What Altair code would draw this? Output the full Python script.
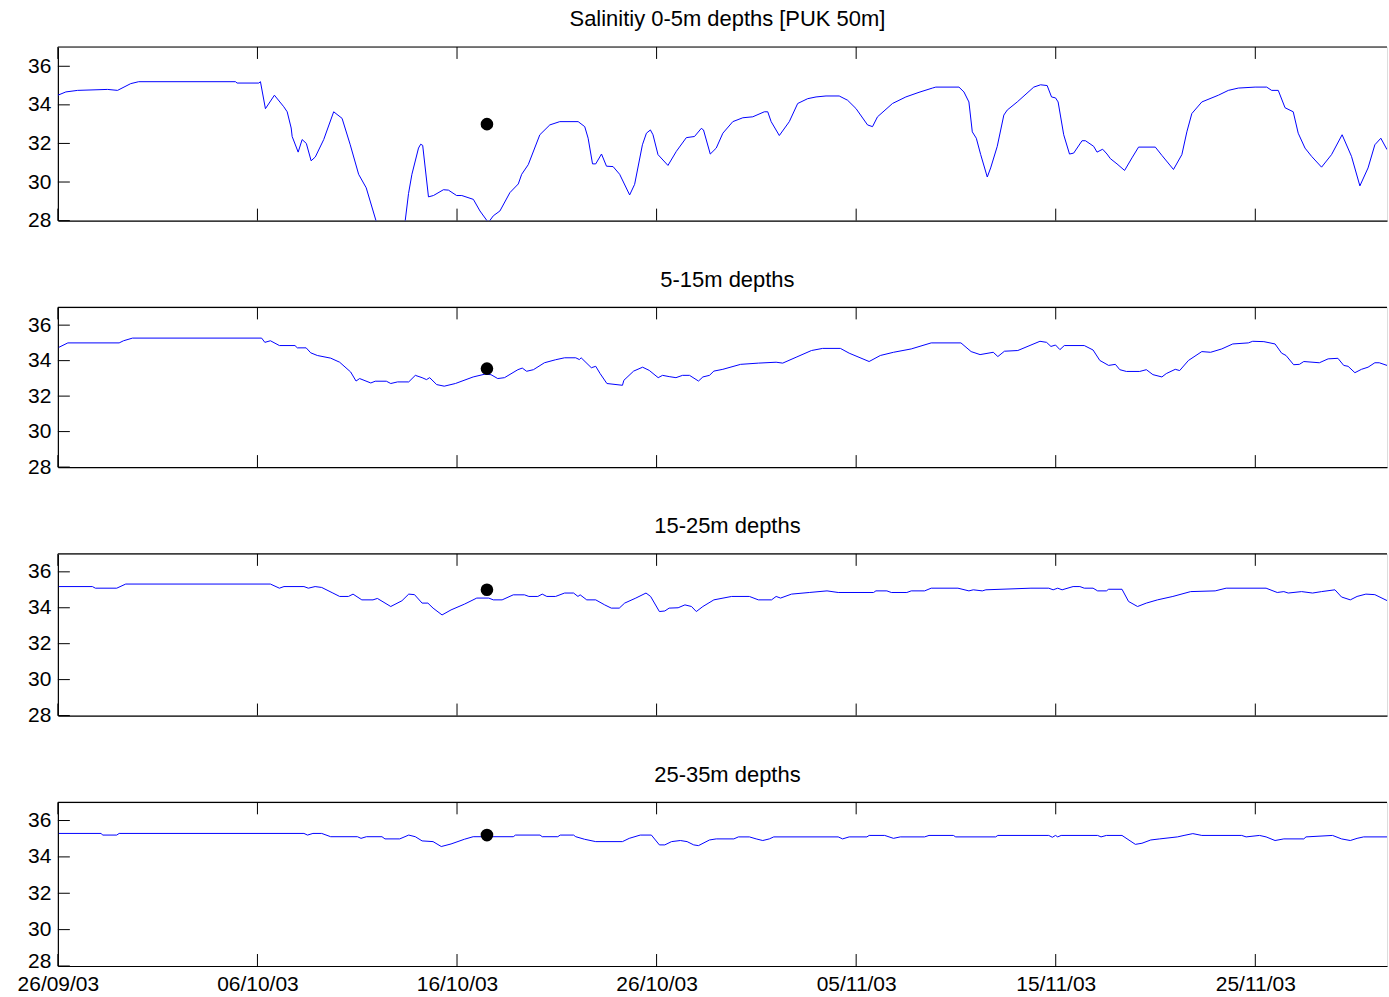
import altair as alt
import pandas as pd

START = pd.Timestamp("2003-09-26")
END_DAYS = 66.6  # right edge of the axes, in days after 26/09/03

titles = ["Salinitiy 0-5m depths [PUK 50m]", "5-15m depths", "15-25m depths", "25-35m depths"]

# ---- panel 1 : 0-5 m ----
p1_days = [0.0, 0.4, 0.99, 2.49, 2.99, 3.65, 4.05, 8.9, 8.98, 10.07,
           10.15, 10.4, 10.85, 11.32, 11.49, 11.69, 11.74, 12.04, 12.24, 12.45,
           12.69, 12.9, 13.32, 13.82, 14.24, 14.65, 15.07, 15.45, 15.95, 16.3,
           16.7, 17.1, 17.4, 17.57, 17.74, 18.07, 18.18, 18.28, 18.57, 18.82,
           19.32, 19.57, 19.98, 20.24, 20.82, 21.15, 21.57, 21.82, 22.15, 22.65,
           23.07, 23.24, 23.57, 24.15, 24.65, 25.15, 26.07, 26.4, 26.57, 26.79,
           26.95, 27.24, 27.49, 27.82, 28.15, 28.65, 28.9, 29.29, 29.49, 29.69,
           29.82, 30.07, 30.57, 30.99, 31.49, 31.9, 32.24, 32.35, 32.69, 32.99,
           33.32, 33.82, 34.32, 34.82, 35.4, 35.57, 35.74, 36.15, 36.65, 37.07,
           37.57, 37.99, 38.49, 39.15, 39.57, 39.99, 40.57, 40.82, 41.07, 41.82,
           42.49, 43.15, 43.82, 43.99, 45.15, 45.4, 45.65, 45.82, 46.02, 46.24,
           46.57, 46.74, 47.07, 47.4, 47.57, 48.07, 48.9, 49.24, 49.57, 49.79,
           49.99, 50.12, 50.4, 50.69, 50.9, 51.32, 51.49, 51.9, 52.07, 52.35,
           52.57, 52.74, 53.07, 53.45, 53.82, 54.15, 54.99, 55.32, 55.9, 56.32,
           56.57, 56.82, 57.32, 58.15, 58.65, 59.15, 59.99, 60.57, 60.82, 61.15,
           61.49, 61.9, 62.15, 62.49, 62.82, 63.32, 63.82, 64.35, 64.82, 65.24,
           65.65, 65.99, 66.29, 66.6]
p1_vals = [34.5, 34.67, 34.75, 34.8, 34.75, 35.1, 35.2, 35.2, 35.13, 35.13,
           35.2, 33.8, 34.5, 33.9, 33.64, 32.8, 32.36, 31.55, 32.2, 32.0,
           31.1, 31.3, 32.2, 33.64, 33.3, 31.93, 30.4, 29.7, 27.96, 26.8,
           26.2, 26.4, 27.96, 29.4, 30.4, 31.76, 31.96, 31.9, 29.23, 29.3,
           29.6, 29.58, 29.3, 29.3, 29.1, 28.5, 27.9, 28.25, 28.5, 29.45,
           29.9, 30.4, 30.9, 32.45, 32.96, 33.13, 33.13, 32.87, 32.27, 30.94,
           30.94, 31.45, 30.82, 30.8, 30.4, 29.33, 29.88, 31.93, 32.53, 32.7,
           32.45, 31.42, 30.86, 31.59, 32.3, 32.36, 32.78, 32.7, 31.45, 31.76,
           32.53, 33.13, 33.33, 33.38, 33.64, 33.64, 33.13, 32.41, 33.13, 34.07,
           34.32, 34.41, 34.46, 34.46, 34.24, 33.81, 32.96, 32.87, 33.38, 34.07,
           34.41, 34.65, 34.87, 34.92, 34.92, 34.67, 34.15, 32.6, 32.27, 31.42,
           30.26, 30.73, 31.85, 33.47, 33.73, 34.15, 34.92, 35.04, 35.0, 34.41,
           34.36, 34.15, 32.45, 31.45, 31.5, 32.14, 32.14, 31.85, 31.55, 31.7,
           31.45, 31.21, 30.94, 30.6, 31.25, 31.81, 31.81, 31.38, 30.65, 31.42,
           32.6, 33.55, 34.15, 34.5, 34.75, 34.87, 34.92, 34.92, 34.75, 34.75,
           33.85, 33.64, 32.53, 31.76, 31.33, 30.77, 31.42, 32.45, 31.33, 29.8,
           30.73, 31.93, 32.27, 31.68]

# ---- panel 2 : 5-15 m ----
p2_days = [0.05, 0.5, 3.07, 3.29, 3.74, 10.21, 10.37, 10.65, 11.1, 11.88,
           12.0, 12.44, 12.67, 13.0, 13.67, 14.12, 14.67, 14.94, 15.12, 15.68,
           15.9, 16.46, 16.68, 17.02, 17.58, 17.91, 18.25, 18.47, 18.63, 18.98,
           19.36, 19.92, 20.81, 21.37, 21.7, 22.04, 22.38, 23.05, 23.27, 23.49,
           23.83, 24.38, 24.94, 25.39, 25.95, 26.13, 26.22, 26.73, 26.95, 27.17,
           27.51, 28.29, 28.36, 28.85, 29.3, 29.63, 30.08, 30.3, 30.63, 30.97,
           31.3, 31.65, 32.1, 32.32, 32.65, 32.87, 33.32, 34.21, 35.1, 35.99,
           36.32, 36.99, 37.76, 38.32, 39.21, 39.65, 40.65, 41.21, 41.87, 42.76,
           43.76, 45.25, 45.76, 46.21, 46.87, 47.1, 47.43, 48.1, 48.76, 49.21,
           49.54, 49.76, 49.99, 50.21, 50.43, 51.43, 51.87, 52.21, 52.65, 52.99,
           53.21, 53.54, 54.21, 54.54, 54.87, 55.32, 55.54, 55.99, 56.21, 56.65,
           57.32, 57.76, 58.32, 58.87, 59.65, 59.87, 60.43, 60.99, 61.32, 61.54,
           61.92, 62.21, 62.43, 63.21, 63.65, 64.14, 64.43, 64.65, 64.99, 65.32,
           65.65, 65.99, 66.21, 66.6]
p2_vals = [34.75, 35.0, 35.0, 35.12, 35.27, 35.27, 35.03, 35.12, 34.85, 34.85,
           34.72, 34.72, 34.44, 34.29, 34.14, 33.91, 33.36, 32.85, 32.99, 32.74,
           32.84, 32.84, 32.71, 32.8, 32.8, 33.17, 33.04, 32.93, 33.04, 32.65,
           32.56, 32.71, 33.08, 33.23, 33.21, 32.99, 33.04, 33.49, 33.58, 33.4,
           33.49, 33.88, 34.05, 34.16, 34.16, 34.06, 34.16, 33.6, 33.68, 33.27,
           32.71, 32.61, 32.89, 33.41, 33.63, 33.45, 33.04, 33.17, 33.1, 33.04,
           33.17, 33.17, 32.85, 33.08, 33.17, 33.41, 33.51, 33.79, 33.86, 33.91,
           33.86, 34.19, 34.57, 34.69, 34.69, 34.42, 33.95, 34.29, 34.47, 34.66,
           35.0, 35.0, 34.51, 34.34, 34.47, 34.23, 34.53, 34.57, 34.88, 35.09,
           35.03, 34.8, 34.88, 34.62, 34.85, 34.85, 34.6, 34.01, 33.73, 33.79,
           33.49, 33.39, 33.39, 33.49, 33.21, 33.08, 33.27, 33.51, 33.44, 34.01,
           34.51, 34.47, 34.66, 34.94, 35.0, 35.09, 35.07, 34.94, 34.42, 34.29,
           33.77, 33.79, 33.95, 33.88, 34.1, 34.13, 33.73, 33.68, 33.32, 33.51,
           33.63, 33.88, 33.88, 33.73]

# ---- panel 3 : 15-25 m ----
p3_days = [0.05, 1.73, 1.88, 2.95, 3.4, 10.65, 11.1, 11.33, 12.33, 12.55,
           12.89, 13.22, 13.78, 14.12, 14.56, 14.79, 15.23, 15.79, 16.01, 16.68,
           17.24, 17.58, 17.87, 18.25, 18.54, 18.8, 19.25, 19.7, 20.37, 20.99,
           21.59, 21.82, 22.26, 22.82, 23.38, 23.6, 24.05, 24.27, 24.5, 24.94,
           25.39, 25.84, 26.06, 26.17, 26.5, 26.95, 27.4, 27.73, 28.13, 28.4,
           28.96, 29.47, 29.7, 30.14, 30.41, 30.63, 31.08, 31.42, 31.75, 31.99,
           32.32, 32.87, 33.76, 34.65, 35.1, 35.76, 35.99, 36.21, 36.76, 37.65,
           38.54, 39.1, 40.87, 40.99, 41.54, 41.76, 42.54, 42.76, 43.43, 43.76,
           45.1, 45.65, 45.87, 46.32, 46.5, 48.76, 49.65, 49.87, 50.1, 50.32,
           50.87, 51.21, 51.43, 51.87, 52.1, 52.54, 52.65, 53.32, 53.65, 54.1,
           54.54, 55.1, 55.87, 56.76, 57.99, 58.54, 60.54, 61.1, 61.43, 61.65,
           62.32, 62.87, 63.32, 63.99, 64.32, 64.76, 65.1, 65.54, 65.99, 66.6]
p3_vals = [35.18, 35.18, 35.09, 35.09, 35.32, 35.32, 35.09, 35.18, 35.18, 35.09,
           35.18, 35.13, 34.82, 34.63, 34.63, 34.76, 34.44, 34.44, 34.52, 34.07,
           34.39, 34.76, 34.73, 34.26, 34.26, 33.98, 33.6, 33.88, 34.2, 34.54,
           34.54, 34.44, 34.44, 34.72, 34.72, 34.63, 34.63, 34.76, 34.63, 34.63,
           34.82, 34.82, 34.63, 34.72, 34.44, 34.44, 34.16, 33.98, 33.98, 34.26,
           34.54, 34.82, 34.63, 33.79, 33.82, 33.98, 34.0, 34.16, 34.07, 33.79,
           34.07, 34.44, 34.63, 34.63, 34.44, 34.44, 34.63, 34.54, 34.76, 34.85,
           34.94, 34.85, 34.85, 34.94, 34.94, 34.85, 34.85, 34.94, 34.94, 35.09,
           35.09, 34.94, 35.0, 34.94, 35.0, 35.09, 35.09, 35.0, 35.09, 35.0,
           35.18, 35.18, 35.09, 35.09, 34.94, 34.94, 35.03, 35.03, 34.35, 34.07,
           34.26, 34.44, 34.63, 34.9, 34.94, 35.09, 35.09, 34.85, 34.9, 34.82,
           34.9, 34.82, 34.9, 35.0, 34.6, 34.44, 34.63, 34.76, 34.73, 34.4]

# ---- panel 4 : 25-35 m ----
p4_days = [0.05, 2.17, 2.24, 2.95, 3.07, 12.33, 12.51, 12.78, 13.22, 13.67,
           15.01, 15.19, 15.46, 16.24, 16.39, 17.13, 17.58, 17.91, 18.25, 18.8,
           19.21, 19.7, 20.37, 20.81, 22.82, 22.93, 24.16, 24.27, 25.05, 25.17,
           25.84, 25.95, 26.39, 26.95, 28.29, 28.63, 29.18, 29.74, 30.14, 30.41,
           30.75, 31.19, 31.53, 31.86, 32.1, 32.65, 32.99, 33.87, 34.1, 34.65,
           34.99, 35.32, 35.65, 35.87, 39.1, 39.32, 39.65, 40.54, 40.65, 41.43,
           41.87, 42.21, 43.43, 43.65, 44.87, 44.99, 46.99, 47.1, 49.65, 49.83,
           49.99, 50.1, 50.27, 52.1, 52.27, 52.54, 53.32, 53.99, 54.32, 54.76,
           55.21, 56.1, 56.43, 56.87, 57.32, 59.32, 59.54, 60.21, 60.54, 60.99,
           61.43, 62.43, 62.54, 63.87, 64.32, 64.76, 65.1, 65.43, 66.6]
p4_vals = [35.29, 35.29, 35.2, 35.2, 35.29, 35.29, 35.2, 35.29, 35.29, 35.11,
           35.11, 35.02, 35.11, 35.11, 34.99, 34.99, 35.2, 35.11, 34.88, 34.84,
           34.57, 34.71, 34.97, 35.11, 35.11, 35.2, 35.2, 35.11, 35.11, 35.2,
           35.2, 35.11, 34.97, 34.84, 34.84, 35.02, 35.2, 35.2, 34.66, 34.66,
           34.84, 34.9, 34.84, 34.66, 34.62, 34.93, 34.99, 34.99, 35.1, 35.1,
           34.99, 34.9, 34.99, 35.1, 35.1, 34.99, 35.1, 35.1, 35.18, 35.18,
           35.02, 35.1, 35.1, 35.18, 35.18, 35.1, 35.1, 35.18, 35.18, 35.08,
           35.18, 35.1, 35.18, 35.18, 35.1, 35.18, 35.18, 34.69, 34.75, 34.93,
           34.99, 35.1, 35.18, 35.28, 35.18, 35.18, 35.1, 35.18, 35.1, 34.9,
           34.99, 34.99, 35.1, 35.18, 34.99, 34.9, 35.02, 35.1, 35.1]

# ---- single sample (black dot) per depth layer ----
dot_day = 21.5
dot_vals = [33.0, 33.55, 35.0, 35.2]

xtick_days = [0, 10, 20, 30, 40, 50, 60]
ytick_vals = [28, 30, 32, 34, 36]
y_domain = [28, 37]

panel_heights = [174, 160, 162, 164]
W = 1332
TICK = 12
FONT = "Liberation Sans"
FS = 21
TITLE_FS = 22

series = [(p1_days, p1_vals), (p2_days, p2_vals), (p3_days, p3_vals), (p4_days, p4_vals)]


def ts(d):
    return START + pd.Timedelta(days=d)


def dt(t):
    return alt.DateTime(year=t.year, month=t.month, date=t.day, hours=t.hour, minutes=t.minute)


x_scale = alt.Scale(domain=[dt(ts(0)), dt(ts(END_DAYS))])
y_scale = alt.Scale(domain=y_domain, nice=False, zero=False)
xtick_dates = [dt(ts(d)) for d in xtick_days]
xt_df = pd.DataFrame({"t": [ts(d) for d in xtick_days]})
yt_df = pd.DataFrame({"v": ytick_vals})
one_df = pd.DataFrame({"a": [0]})


def panel(i):
    days, vals = series[i]
    assert len(days) == len(vals), (i, len(days), len(vals))
    h = panel_heights[i]
    last = i == len(series) - 1
    x_axis = alt.Axis(values=xtick_dates, format="%d/%m/%y", labels=last, ticks=False,
                      grid=False, title=None, labelFlush=False, labelOverlap=False,
                      labelPadding=8, domainColor="black", domainWidth=1.2,
                      labelFont=FONT, labelFontSize=FS, labelColor="black")
    y_extra = {"labelFlush": True, "labelFlushOffset": 6} if last else {"labelFlush": False}
    y_axis = alt.Axis(values=ytick_vals, ticks=False, grid=False, title=None,
                      labelPadding=7, minExtent=40, maxExtent=40, labelOverlap=False,
                      domainColor="black", domainWidth=1.2,
                      labelFont=FONT, labelFontSize=FS, labelColor="black", **y_extra)

    def X(field="t"):
        return alt.X(f"{field}:T", scale=x_scale, axis=x_axis)

    def Y(field="v"):
        return alt.Y(f"{field}:Q", scale=y_scale, axis=y_axis)

    df = pd.DataFrame({"t": [ts(d) for d in days], "v": vals})
    dot_df = pd.DataFrame({"t": [ts(dot_day)], "v": [dot_vals[i]]})

    line = alt.Chart(df).mark_line(color="#0000ff", strokeWidth=1, clip=True).encode(x=X(), y=Y())
    dot = alt.Chart(dot_df).mark_circle(size=160, color="black", opacity=1).encode(x=X(), y=Y())
    xt_top = alt.Chart(xt_df).mark_rule(color="black", strokeWidth=1).encode(
        x=X(), y=alt.value(0), y2=alt.value(TICK))
    xt_bot = alt.Chart(xt_df).mark_rule(color="black", strokeWidth=1).encode(
        x=X(), y=alt.value(h), y2=alt.value(h - TICK))
    yt = alt.Chart(yt_df).mark_rule(color="black", strokeWidth=1).encode(
        y=Y(), x=alt.value(0), x2=alt.value(TICK))
    top = alt.Chart(one_df).mark_rule(color="black", strokeWidth=1.2).encode(
        x=alt.value(0), x2=alt.value(W), y=alt.value(0))

    return alt.layer(line, xt_top, xt_bot, yt, top, dot).properties(
        width=W, height=h,
        title=alt.TitleParams(text=titles[i], font=FONT, fontSize=TITLE_FS, fontWeight="normal",
                              color="black", anchor="middle", offset=15, dx=5),
    )


chart = alt.vconcat(*[panel(i) for i in range(4)], spacing=36).properties(
    padding={"left": 16, "top": 6, "right": 0, "bottom": 0}
).configure_view(stroke=None).configure(background="white")

chart.save("out.html", embed_options={"renderer": "svg", "actions": False})
